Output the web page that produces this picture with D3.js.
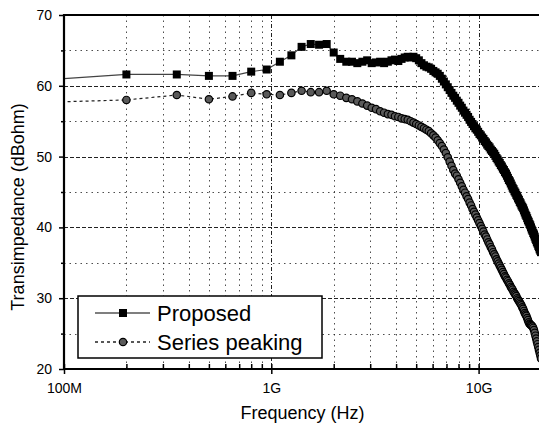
<!DOCTYPE html>
<html>
<head>
<meta charset="utf-8">
<script src="https://cdn.jsdelivr.net/npm/d3@7"></script>
<style>
  body { margin: 0; background: #fff; }
  text { font-family: Arial, "Liberation Sans", sans-serif; fill: #000; }
</style>
</head>
<body>
<script>
// frequency sweep in GHz (150 MHz steps)
var freqGHz = [
  0.05, 0.2, 0.35, 0.5, 0.65, 0.8, 0.95, 1.1, 1.25, 1.4,
  1.55, 1.7, 1.85, 2.0, 2.15, 2.3, 2.45, 2.6, 2.75, 2.9,
  3.05, 3.2, 3.35, 3.5, 3.65, 3.8, 3.95, 4.1, 4.25, 4.4,
  4.55, 4.7, 4.85, 5.0, 5.15, 5.3, 5.45, 5.6, 5.75, 5.9,
  6.05, 6.2, 6.35, 6.5, 6.65, 6.8, 6.95, 7.1, 7.25, 7.4,
  7.55, 7.7, 7.85, 8.0, 8.15, 8.3, 8.45, 8.6, 8.75, 8.9,
  9.05, 9.2, 9.35, 9.5, 9.65, 9.8, 9.95, 10.1, 10.25, 10.4,
  10.55, 10.7, 10.85, 11.0, 11.15, 11.3, 11.45, 11.6, 11.75, 11.9,
  12.05, 12.2, 12.35, 12.5, 12.65, 12.8, 12.95, 13.1, 13.25, 13.4,
  13.55, 13.7, 13.85, 14.0, 14.15, 14.3, 14.45, 14.6, 14.75, 14.9,
  15.05, 15.2, 15.35, 15.5, 15.65, 15.8, 15.95, 16.1, 16.25, 16.4,
  16.55, 16.7, 16.85, 17.0, 17.15, 17.3, 17.45, 17.6, 17.75, 17.9,
  18.05, 18.2, 18.35, 18.5, 18.65, 18.8, 18.95, 19.1, 19.25, 19.4,
  19.55, 19.7, 19.85, 20.0
];

var proposed = [
  60.4, 61.6, 61.6, 61.4, 61.4, 62.0, 62.3, 63.4, 64.3, 65.5,
  65.9, 65.8, 65.9, 64.7, 63.8, 63.4, 63.4, 63.2, 63.4, 63.6,
  63.2, 63.3, 63.4, 63.2, 63.4, 63.6, 63.7, 63.5, 63.8, 64.0,
  64.1, 64.0, 64.1, 63.9, 63.6, 63.2, 62.9, 62.7, 62.6, 62.4,
  62.1, 61.9, 61.7, 61.4, 61.0, 60.6, 60.2, 59.8, 59.4, 59.0,
  58.6, 58.3, 57.9, 57.6, 57.2, 56.9, 56.5, 56.2, 55.9, 55.6,
  55.2, 54.9, 54.6, 54.3, 54.0, 53.8, 53.5, 53.2, 53.0, 52.7,
  52.5, 52.2, 52.0, 51.7, 51.5, 51.3, 51.0, 50.8, 50.6, 50.4,
  50.1, 49.8, 49.6, 49.3, 49.1, 48.8, 48.6, 48.3, 48.1, 47.8,
  47.6, 47.3, 47.0, 46.7, 46.5, 46.2, 45.9, 45.6, 45.4, 45.1,
  44.9, 44.6, 44.4, 44.1, 43.9, 43.6, 43.4, 43.1, 42.9, 42.7,
  42.4, 42.1, 41.8, 41.6, 41.3, 41.0, 40.8, 40.5, 40.3, 40.0,
  39.7, 39.5, 39.2, 39.0, 38.7, 38.4, 38.2, 37.9, 37.7, 37.4,
  37.2, 36.9, 36.7, 36.5
];

var seriesPeaking = [
  57.5, 58.0, 58.7, 58.1, 58.5, 59.0, 58.8, 58.7, 59.0, 59.3,
  59.1, 59.1, 59.3, 58.8, 58.6, 58.3, 58.1, 57.8, 57.5, 57.2,
  56.9, 56.7, 56.4, 56.2, 56.0, 55.9, 55.7, 55.6, 55.4, 55.3,
  55.2, 55.0, 54.8, 54.6, 54.4, 54.2, 54.0, 53.8, 53.6, 53.3,
  53.0, 52.7, 52.3, 51.9, 51.5, 51.0, 50.5, 49.9, 49.3, 48.7,
  48.1, 47.6, 47.3, 46.8, 46.3, 45.8, 45.3, 44.9, 44.4, 44.0,
  43.5, 43.1, 42.6, 42.2, 41.8, 41.4, 41.0, 40.6, 40.2, 39.8,
  39.4, 39.0, 38.7, 38.3, 37.9, 37.6, 37.2, 36.9, 36.5, 36.2,
  35.9, 35.5, 35.2, 34.9, 34.6, 34.3, 34.0, 33.7, 33.4, 33.1,
  32.9, 32.6, 32.4, 32.1, 31.9, 31.6, 31.4, 31.2, 30.9, 30.7,
  30.5, 30.3, 30.0, 29.8, 29.6, 29.4, 29.2, 29.0, 28.7, 28.5,
  28.2, 27.9, 27.7, 27.5, 27.2, 26.9, 26.6, 26.4, 26.3, 26.2,
  26.1, 26.0, 25.8, 25.5, 25.1, 24.7, 24.3, 23.9, 23.5, 23.1,
  22.7, 22.3, 21.9, 21.5
];

var seriesNames = ["Proposed", "Series peaking"];
var xTicks = [0.1, 1, 10];
var xTickLabels = ["100M", "1G", "10G"];
var xMinor = [0.2, 0.3, 0.4, 0.5, 0.6, 0.7, 0.8, 0.9, 2, 3, 4, 5, 6, 7, 8, 9];
var yTicks = [20, 30, 40, 50, 60, 70];
var yMinor = [25, 35, 45, 55, 65];

var width = 539;
var height = 425;
// note: "top" is taken by window.top, so plot box uses its own names
var pL = 64, pT = 15, pR = 541, pB = 369;

var svg = d3.select("body")
  .append("svg")
  .attr("width", width)
  .attr("height", height);

var x = d3.scaleLog().domain([0.1, 20]).range([pL, pR]);
var y = d3.scaleLinear().domain([20, 70]).range([pB, pT]);

var propData = freqGHz.map(function(f, i) { return {f: f, v: proposed[i]}; });
var spData = freqGHz.map(function(f, i) { return {f: f, v: seriesPeaking[i]}; });

svg.append("clipPath").attr("id", "clip")
  .append("rect")
  .attr("x", pL).attr("y", pT)
  .attr("width", pR - pL).attr("height", pB - pT);

// grid
var grid = svg.append("g").attr("stroke", "#222").attr("stroke-width", 1).attr("fill", "none");
grid.selectAll(".ymaj").data(yTicks.slice(1, -1)).enter().append("line")
  .attr("x1", pL).attr("x2", pR)
  .attr("y1", function(d) { return Math.round(y(d)) + 0.5; })
  .attr("y2", function(d) { return Math.round(y(d)) + 0.5; })
  .attr("stroke-dasharray", "4,2");
grid.selectAll(".ymin").data(yMinor).enter().append("line")
  .attr("x1", pL).attr("x2", pR)
  .attr("y1", function(d) { return Math.round(y(d)) + 0.5; })
  .attr("y2", function(d) { return Math.round(y(d)) + 0.5; })
  .attr("stroke-dasharray", "1.5,4")
  .attr("stroke-opacity", 0.8);
grid.selectAll(".xmin").data(xMinor).enter().append("line")
  .attr("y1", pT).attr("y2", pB)
  .attr("x1", function(d) { return Math.round(x(d)) + 0.5; })
  .attr("x2", function(d) { return Math.round(x(d)) + 0.5; })
  .attr("stroke-dasharray", "1.5,4")
  .attr("stroke-opacity", 0.8);
grid.selectAll(".xmaj").data(xTicks.slice(1)).enter().append("line")
  .attr("y1", pT).attr("y2", pB)
  .attr("x1", function(d) { return Math.round(x(d)) + 0.5; })
  .attr("x2", function(d) { return Math.round(x(d)) + 0.5; })
  .attr("stroke-dasharray", "4,2,1,2");

var line = d3.line()
  .x(function(d) { return x(d.f); })
  .y(function(d) { return y(d.v); });

var plot = svg.append("g").attr("clip-path", "url(#clip)");

plot.append("path").datum(spData)
  .attr("d", line)
  .attr("fill", "none")
  .attr("stroke", "#222")
  .attr("stroke-width", 1.2)
  .attr("stroke-dasharray", "3,3");

plot.append("path").datum(propData)
  .attr("d", line)
  .attr("fill", "none")
  .attr("stroke", "#444")
  .attr("stroke-width", 1.2);

plot.selectAll(".circ").data(spData).enter().append("circle")
  .attr("cx", function(d) { return x(d.f); })
  .attr("cy", function(d) { return y(d.v); })
  .attr("r", 3.7)
  .attr("fill", "#5a5a5a")
  .attr("stroke", "#000")
  .attr("stroke-width", 1.2);

plot.selectAll(".sq").data(propData).enter().append("rect")
  .attr("x", function(d) { return x(d.f) - 4; })
  .attr("y", function(d) { return y(d.v) - 4; })
  .attr("width", 8)
  .attr("height", 8)
  .attr("fill", "#000");

// axes
var yAxis = d3.axisLeft(y).tickValues(yTicks).tickSize(5).tickPadding(7);
svg.append("g")
  .attr("transform", "translate(" + pL + ",0)")
  .call(yAxis)
  .call(function(g) {
    g.select(".domain").remove();
    g.selectAll(".tick line").attr("stroke", "#000").attr("stroke-width", 1.5);
    g.selectAll("text").attr("font-size", 14).attr("fill", "#000")
      .style("font-family", "Arial, 'Liberation Sans', sans-serif");
  });
svg.append("g")
  .attr("transform", "translate(" + pL + ",0)")
  .call(d3.axisLeft(y).tickValues(yMinor).tickSize(3).tickFormat(""))
  .call(function(g) { g.select(".domain").remove(); g.selectAll("line").attr("stroke-width", 1.5); });

var xAxis = d3.axisBottom(x).tickValues(xTicks)
  .tickFormat(function(d, i) { return xTickLabels[i]; })
  .tickSize(5).tickPadding(9);
svg.append("g")
  .attr("transform", "translate(0," + pB + ")")
  .call(xAxis)
  .call(function(g) {
    g.select(".domain").remove();
    g.selectAll(".tick line").attr("stroke", "#000").attr("stroke-width", 1.5);
    g.selectAll("text").attr("font-size", 14).attr("fill", "#000")
      .style("font-family", "Arial, 'Liberation Sans', sans-serif");
  });
// inward ticks
svg.append("g")
  .attr("transform", "translate(0," + pB + ")")
  .call(d3.axisBottom(x).tickValues(xTicks.concat(xMinor)).tickSize(-5).tickFormat(""))
  .call(function(g) { g.select(".domain").remove(); g.selectAll("line").attr("stroke-width", 1.5); });

// frame lines (left, bottom, top)
svg.append("line").attr("x1", pL).attr("x2", pL).attr("y1", pT - 1).attr("y2", pB + 1)
  .attr("stroke", "#000").attr("stroke-width", 2.2);
svg.append("line").attr("x1", pL - 1).attr("x2", pR).attr("y1", pB).attr("y2", pB)
  .attr("stroke", "#000").attr("stroke-width", 2.2);
svg.append("line").attr("x1", pL - 1).attr("x2", pR).attr("y1", pT).attr("y2", pT)
  .attr("stroke", "#000").attr("stroke-width", 2.2);

// axis titles
svg.append("text")
  .attr("x", (pL + pR) / 2)
  .attr("y", 419)
  .attr("text-anchor", "middle")
  .attr("font-size", 18)
  .text("Frequency (Hz)");
svg.append("text")
  .attr("transform", "translate(24," + ((pT + pB) / 2 + 15) + ") rotate(-90)")
  .attr("text-anchor", "middle")
  .attr("font-size", 18)
  .text("Transimpedance (dBohm)");

// legend
var lg = svg.append("g");
lg.append("rect")
  .attr("x", 78).attr("y", 296)
  .attr("width", 244).attr("height", 62)
  .attr("fill", "#fff")
  .attr("stroke", "#000")
  .attr("stroke-width", 1.5);

var rows = [313, 342];
lg.append("line").attr("x1", 95).attr("x2", 150).attr("y1", rows[0]).attr("y2", rows[0])
  .attr("stroke", "#555").attr("stroke-width", 1.3);
lg.append("rect").attr("x", 119).attr("y", rows[0] - 4).attr("width", 8).attr("height", 8).attr("fill", "#000");
lg.append("line").attr("x1", 95).attr("x2", 150).attr("y1", rows[1]).attr("y2", rows[1])
  .attr("stroke", "#222").attr("stroke-width", 1.3).attr("stroke-dasharray", "3,3");
lg.append("circle").attr("cx", 123).attr("cy", rows[1]).attr("r", 3.7)
  .attr("fill", "#5a5a5a").attr("stroke", "#000").attr("stroke-width", 1.2);

lg.selectAll(".lt").data(seriesNames).enter().append("text")
  .attr("x", 157)
  .attr("y", function(d, i) { return rows[i] + 8; })
  .attr("font-size", 22)
  .text(function(d) { return d; });
</script>
</body>
</html>
